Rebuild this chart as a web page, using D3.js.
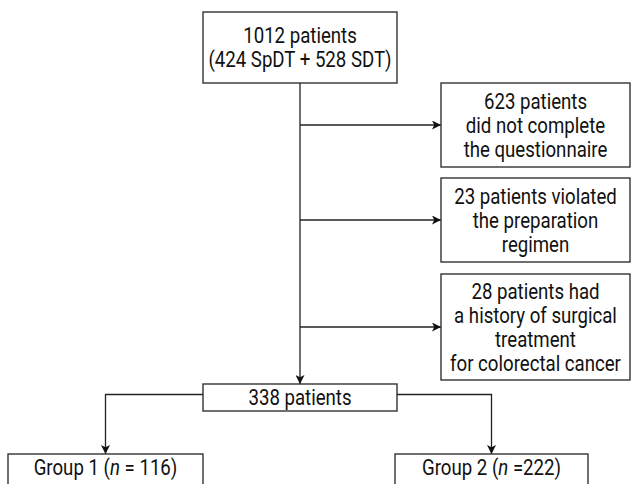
<!DOCTYPE html>
<html>
<head>
<meta charset="utf-8">
<script src="https://cdn.jsdelivr.net/npm/d3@7"></script>
<style>
body { margin: 0; background: #fff; }
svg text { font-family: Roboto, "DejaVu Sans", sans-serif; fill: #111; }
.box { fill: #fff; stroke: #333; stroke-width: 1.4; }
.link { fill: none; stroke: #222; stroke-width: 1.3; }
</style>
</head>
<body>
<div id="chart"></div>
<script>
// flow counts
var totalN = 1012, spdtN = 424, sdtN = 528;
var excludedN = [623, 23, 28];
var excludedText = [
	["did not complete", "the questionnaire"],
	["violated", "the preparation", "regimen"],
	["had", "a history of surgical", "treatment", "for colorectal cancer"]
];
var finalN = 338;
var groupN = [116, 222];

var width = 631, height = 484;

var svg = d3.select("#chart").append("svg")
	.attr("width", width)
	.attr("height", height);

svg.append("defs").append("marker")
	.attr("id", "arrow")
	.attr("viewBox", "0 0 10 10")
	.attr("refX", 10).attr("refY", 5)
	.attr("markerWidth", 11).attr("markerHeight", 9)
	.attr("markerUnits", "userSpaceOnUse")
	.attr("orient", "auto")
	.append("path")
	.attr("d", "M0,0 L10,5 L0,10 L2.5,5 Z")
	.attr("fill", "#111");

var linkLayer = svg.append("g");
var boxLayer = svg.append("g");

// lines of text for every box
var topLines = [totalN + " patients", "(" + spdtN + " SpDT + " + sdtN + " SDT)"];
var exLines = excludedN.map(function(n, i) {
	var l = excludedText[i].slice();
	if (i == 0) return [n + " patients"].concat(l);
	return [n + " patients " + l[0]].concat(l.slice(1));
});
var midLines = [finalN + " patients"];

// layout
var boxes = [
	{ x: 203, y: 12, w: 194, h: 71, lines: topLines },
	{ x: 441, y: 83, w: 189, h: 84, lines: exLines[0] },
	{ x: 441, y: 178, w: 189, h: 84, lines: exLines[1] },
	{ x: 441, y: 274, w: 189, h: 106, lines: exLines[2] },
	{ x: 203, y: 384, w: 194, h: 27, lines: midLines },
	{ x: 8, y: 454, w: 195, h: 40, group: 0 },
	{ x: 395, y: 454, w: 193, h: 40, group: 1 }
];

var lineH = 24, fs = 22;

// narrow the font to look like the condensed face of the original
var probe = svg.append("text").attr("font-size", fs).text("for colorectal cancer");
var squeeze = 171 / probe.node().getComputedTextLength();
probe.remove();

var cx = 300;
// main vertical
linkLayer.append("line").attr("class", "link")
	.attr("x1", cx).attr("y1", boxes[0].y + boxes[0].h)
	.attr("x2", cx).attr("y2", boxes[4].y)
	.attr("marker-end", "url(#arrow)");

// side arrows to exclusions
[1, 2, 3].forEach(function(i) {
	var b = boxes[i];
	linkLayer.append("line").attr("class", "link")
		.attr("x1", cx).attr("y1", b.y + b.h / 2)
		.attr("x2", b.x).attr("y2", b.y + b.h / 2)
		.attr("marker-end", "url(#arrow)");
});

// split to groups
var mid = boxes[4];
var my = mid.y + mid.h / 2 - 3;
[5, 6].forEach(function(i) {
	var g = boxes[i];
	var gx = g.x + g.w / 2;
	var sx = i == 5 ? mid.x : mid.x + mid.w;
	linkLayer.append("path").attr("class", "link")
		.attr("d", d3.line()([[sx, my], [gx, my], [gx, g.y]]))
		.attr("marker-end", "url(#arrow)");
});

var bg = boxLayer.selectAll("g.node")
	.data(boxes)
	.enter().append("g")
	.attr("class", "node");

bg.append("rect").attr("class", "box")
	.attr("x", function(d) { return d.x; })
	.attr("y", function(d) { return d.y; })
	.attr("width", function(d) { return d.w; })
	.attr("height", function(d) { return d.h; });

bg.filter(function(d) { return d.lines; }).each(function(d) {
	var t = d3.select(this).append("text")
		.attr("text-anchor", "middle")
		.attr("font-size", fs)
		.attr("transform", "translate(" + (d.x + d.w / 2) + ",0) scale(" + squeeze + ",1)");
	var n = d.lines.length;
	d.lines.forEach(function(s, k) {
		t.append("tspan")
			.attr("x", 0)
			.attr("y", d.y + d.h / 2 + (k - (n - 1) / 2) * lineH)
			.attr("dy", "0.35em")
			.text(s);
	});
});

// group boxes with italic n
bg.filter(function(d) { return d.group !== undefined; }).each(function(d) {
	var t = d3.select(this).append("text")
		.attr("text-anchor", "middle")
		.attr("font-size", fs)
		.attr("transform", "translate(" + (d.x + d.w / 2) + ",0) scale(" + squeeze + ",1)")
		.attr("x", 0)
		.attr("y", d.y + 13)
		.attr("dy", "0.35em");
	t.append("tspan").text("Group " + (d.group + 1) + " (");
	t.append("tspan").attr("font-style", "italic").text("n");
	t.append("tspan").text(d.group == 0 ? " = " + groupN[0] + ")" : " =" + groupN[1] + ")");
});
</script>
</body>
</html>
